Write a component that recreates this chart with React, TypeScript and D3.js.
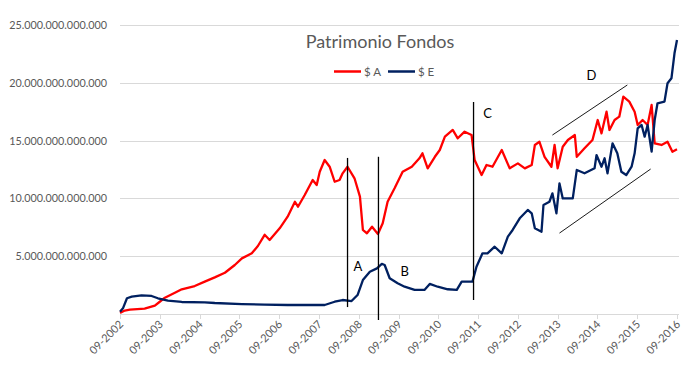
import { useRef, useEffect } from 'react';
import * as d3 from 'd3';

// Patrimonio en billones (1e12)
const fechasA = [
  '2002-09-01', '2002-10-15', '2002-12-01', '2003-04-15', '2003-07-18', '2003-09-01', '2003-10-18',
  '2004-01-18', '2004-03-21', '2004-07-18', '2004-10-18', '2005-01-18', '2005-04-21', '2005-07-21',
  '2005-09-24', '2005-12-24', '2006-02-18', '2006-04-21', '2006-06-06', '2006-09-06', '2006-11-18',
  '2007-01-24', '2007-02-21', '2007-04-24', '2007-07-06', '2007-08-12', '2007-09-09', '2007-10-24',
  '2007-12-09', '2008-01-24', '2008-03-09', '2008-04-06', '2008-05-21', '2008-07-24', '2008-09-12',
  '2008-10-09', '2008-11-15', '2009-01-01', '2009-02-24', '2009-04-09', '2009-05-24', '2009-07-27',
  '2009-10-09', '2010-01-01', '2010-03-12', '2010-04-09', '2010-05-27', '2010-08-01', '2010-09-15',
  '2010-11-01', '2011-01-12', '2011-02-27', '2011-05-01', '2011-07-04', '2011-08-01', '2011-10-04',
  '2011-11-18', '2012-01-12', '2012-04-06', '2012-06-18', '2012-09-01', '2012-11-04', '2013-01-06',
  '2013-02-04', '2013-03-18', '2013-05-04', '2013-07-06', '2013-08-04', '2013-09-01', '2013-10-18',
  '2013-12-04', '2014-02-06', '2014-02-24', '2014-05-06', '2014-07-18', '2014-09-04', '2014-10-09',
  '2014-11-24', '2014-12-21', '2015-02-06', '2015-03-21', '2015-04-27', '2015-06-21', '2015-08-09',
  '2015-09-06', '2015-10-21', '2015-12-06', '2016-01-12', '2016-02-09', '2016-04-12', '2016-06-06',
  '2016-07-21', '2016-09-01',
];
const valoresA = [
  0.1, 0.3, 0.37, 0.46, 0.72, 1.06, 1.41,
  1.84, 2.14, 2.42, 2.8, 3.17, 3.57, 4.24,
  4.81, 5.25, 5.88, 6.85, 6.4, 7.41, 8.42,
  9.71, 9.28, 10.29, 11.59, 11.16, 12.31, 13.32,
  12.74, 11.44, 11.59, 12.17, 12.74, 11.74, 10.15,
  7.27, 6.98, 7.55, 6.92, 7.85, 9.71, 10.87,
  12.3, 12.74, 13.47, 13.9, 12.6, 13.6, 14.19,
  15.34, 15.92, 15.2, 15.77, 15.48, 13.32, 12.02,
  12.89, 12.74, 14.19, 12.6, 13.03, 12.6, 12.89,
  14.62, 14.9, 13.6, 12.74, 14.62, 12.6, 14.47,
  15.05, 15.48, 13.6, 14.33, 15.05, 16.78, 15.63,
  17.5, 15.92, 16.78, 17.07, 18.8, 18.37, 17.5,
  16.35, 16.78, 16.35, 18.08, 14.76, 14.62, 14.9,
  14.04, 14.25,
];

const fechasE = [
  '2002-09-01', '2002-09-28', '2002-11-04', '2002-12-18', '2003-03-18', '2003-06-18', '2003-08-15',
  '2003-11-15', '2004-03-21', '2004-10-18', '2005-01-18', '2005-09-24', '2006-04-21', '2006-11-18',
  '2007-10-24', '2008-01-24', '2008-04-06', '2008-06-27', '2008-08-21', '2008-10-09', '2008-12-12',
  '2009-02-15', '2009-04-01', '2009-04-27', '2009-06-12', '2009-08-24', '2009-10-27', '2010-01-27',
  '2010-04-27', '2010-06-15', '2010-08-27', '2010-11-27', '2011-02-18', '2011-04-04', '2011-07-12',
  '2011-08-18', '2011-10-12', '2011-11-27', '2012-02-01', '2012-04-06', '2012-06-01', '2012-07-15',
  '2012-09-18', '2012-12-01', '2013-01-06', '2013-02-04', '2013-04-06', '2013-04-24', '2013-06-18',
  '2013-07-15', '2013-08-21', '2013-09-18', '2013-10-18', '2014-01-18', '2014-02-24', '2014-05-06',
  '2014-08-06', '2014-08-24', '2014-10-09', '2014-11-06', '2014-12-03', '2015-01-18', '2015-03-03',
  '2015-04-09', '2015-05-24', '2015-07-12', '2015-08-09', '2015-09-06', '2015-10-12', '2015-11-09',
  '2015-12-06', '2016-01-12', '2016-02-09', '2016-03-06', '2016-05-09', '2016-06-06', '2016-07-12',
  '2016-08-09', '2016-09-01',
];
const valoresE = [
  0.2, 0.49, 1.36, 1.5, 1.61, 1.56, 1.36,
  1.15, 1.04, 1.01, 0.95, 0.86, 0.81, 0.78,
  0.78, 1.06, 1.21, 1.12, 1.64, 2.94, 3.66,
  3.95, 4.33, 4.24, 3.09, 2.66, 2.36, 2.08,
  2.08, 2.6, 2.36, 2.14, 2.08, 2.8, 2.8,
  4.09, 5.25, 5.25, 5.82, 5.25, 6.69, 7.27,
  8.28, 9.0, 8.71, 7.41, 7.12, 9.43, 9.71,
  10.44, 8.71, 11.3, 10.0, 10.0, 12.46, 12.17,
  12.6, 13.75, 12.74, 13.47, 12.17, 14.76, 13.9,
  12.31, 12.02, 12.74, 13.9, 16.06, 16.35, 15.34,
  16.35, 14.04, 16.78, 18.23, 18.37, 19.96, 20.39,
  22.55, 23.7,
];

const yTicks = [5, 10, 15, 20, 25];
const xTickYears = d3.range(2002, 2017);

// Anotaciones: [fecha, valor] en coordenadas de datos
const cortes: [string, number, number][] = [
  ['2008-05-21', 13.5, 0.6],
  ['2009-03-01', 13.6, -0.52],
  ['2011-07-22', 18.34, 1.21],
];
const etiquetas: [string, string, number][] = [
  ['A', '2008-08-24', 4.15],
  ['B', '2009-10-27', 3.72],
  ['C', '2011-11-27', 17.39],
  ['D', '2014-07-09', 20.67],
];
const diagonales: [string, number, string, number][] = [
  ['2013-07-15', 15.48, '2015-06-03', 19.81],
  ['2013-09-18', 7.0, '2016-01-03', 12.54],
];

const W = 688;
const H = 374;
const FONT = 'Lato, "Open Sans", sans-serif';
const GRIS = '#595959';

export default function App() {
  const svgRef = useRef<SVGSVGElement>(null);

  useEffect(() => {
    if (!svgRef.current) return;
    document.body.style.margin = '0';
    const svg = d3.select(svgRef.current);
    svg.selectAll('*').remove();

    const parse = d3.timeParse('%Y-%m-%d');
    const x = d3.scaleTime()
      .domain([new Date(2002, 8, 1), new Date(2016, 8, 1)])
      .range([120, 677]);
    const y = d3.scaleLinear().domain([0, 25]).range([314, 25]);

    const locale = d3.formatLocale({ decimal: ',', thousands: '.', grouping: [3], currency: ['$', ''] });
    const fmt = locale.format(',.0f');

    // Grid
    svg.append('g')
      .selectAll('line')
      .data(yTicks)
      .join('line')
      .attr('x1', 120)
      .attr('x2', 679)
      .attr('y1', (d) => Math.round(y(d)) + 0.5)
      .attr('y2', (d) => Math.round(y(d)) + 0.5)
      .attr('stroke', '#d9d9d9')
      .attr('stroke-width', 1);

    svg.append('g')
      .selectAll('text')
      .data(yTicks)
      .join('text')
      .attr('x', 107)
      .attr('y', (d) => y(d) + 4)
      .attr('text-anchor', 'end')
      .attr('font-family', FONT)
      .attr('font-size', 10.8)
      .attr('fill', GRIS)
      .text((d) => fmt(d * 1e12));

    // X axis
    const ticks = xTickYears.map((yr) => new Date(yr, 8, 1));
    svg.append('line')
      .attr('x1', 120).attr('x2', 679)
      .attr('y1', Math.round(y(0)) + 0.5).attr('y2', Math.round(y(0)) + 0.5)
      .attr('stroke', '#d9d9d9');
    svg.append('g')
      .selectAll('line')
      .data(ticks)
      .join('line')
      .attr('x1', (d) => Math.round(x(d)) + 0.5)
      .attr('x2', (d) => Math.round(x(d)) + 0.5)
      .attr('y1', y(0))
      .attr('y2', y(0) + 5)
      .attr('stroke', '#d9d9d9');
    const tf = d3.timeFormat('%m-%Y');
    svg.append('g')
      .selectAll('text')
      .data(ticks)
      .join('text')
      .attr('transform', (d) => `translate(${x(d) + 4},${y(0) + 11}) rotate(-45)`)
      .attr('text-anchor', 'end')
      .attr('font-family', FONT)
      .attr('font-size', 11)
      .attr('fill', GRIS)
      .text((d) => tf(d));

    // Series
    const line = d3.line<[Date, number]>()
      .x((d) => x(d[0]))
      .y((d) => y(d[1]));
    const serieA = fechasA.map((f, i) => [parse(f) as Date, valoresA[i]] as [Date, number]);
    const serieE = fechasE.map((f, i) => [parse(f) as Date, valoresE[i]] as [Date, number]);

    svg.append('path')
      .datum(serieA)
      .attr('d', line)
      .attr('fill', 'none')
      .attr('stroke', '#ff0000')
      .attr('stroke-width', 2.3)
      .attr('stroke-linejoin', 'round');
    svg.append('path')
      .datum(serieE)
      .attr('d', line)
      .attr('fill', 'none')
      .attr('stroke', '#002060')
      .attr('stroke-width', 2.3)
      .attr('stroke-linejoin', 'round');

    // Annotations
    svg.append('g')
      .selectAll('line')
      .data(cortes)
      .join('line')
      .attr('x1', (d) => x(parse(d[0]) as Date))
      .attr('x2', (d) => x(parse(d[0]) as Date))
      .attr('y1', (d) => y(d[1]))
      .attr('y2', (d) => y(d[2]))
      .attr('stroke', '#000')
      .attr('stroke-width', 1.3);
    svg.append('g')
      .selectAll('line')
      .data(diagonales)
      .join('line')
      .attr('x1', (d) => x(parse(d[0]) as Date))
      .attr('y1', (d) => y(d[1]))
      .attr('x2', (d) => x(parse(d[2]) as Date))
      .attr('y2', (d) => y(d[3]))
      .attr('stroke', '#000')
      .attr('stroke-width', 0.9);
    svg.append('g')
      .selectAll('text')
      .data(etiquetas)
      .join('text')
      .attr('x', (d) => x(parse(d[1]) as Date))
      .attr('y', (d) => y(d[2]) + 5)
      .attr('text-anchor', 'middle')
      .attr('font-family', FONT)
      .attr('font-size', 13)
      .attr('fill', '#000')
      .text((d) => d[0]);

    // Title
    svg.append('text')
      .attr('x', 380)
      .attr('y', 48)
      .attr('text-anchor', 'middle')
      .attr('font-family', FONT)
      .attr('font-size', 18)
      .attr('fill', GRIS)
      .text('Patrimonio Fondos');

    // Legend
    const leyenda = [
      { nombre: '$ A', color: '#ff0000' },
      { nombre: '$ E', color: '#002060' },
    ];
    const lg = svg.append('g');
    leyenda.forEach((it, i) => {
      const ox = 334 + i * 54;
      lg.append('line')
        .attr('x1', ox).attr('x2', ox + 27)
        .attr('y1', 71.5).attr('y2', 71.5)
        .attr('stroke', it.color)
        .attr('stroke-width', 2.5);
      lg.append('text')
        .attr('x', ox + 30)
        .attr('y', 75.5)
        .attr('font-family', FONT)
        .attr('font-size', 11.5)
        .attr('fill', GRIS)
        .text(it.nombre);
    });
  }, []);

  return (
    <svg
      ref={svgRef}
      width={W}
      height={H}
      style={{ position: 'absolute', left: 0, top: 0, background: '#fff' }}
    />
  );
}
